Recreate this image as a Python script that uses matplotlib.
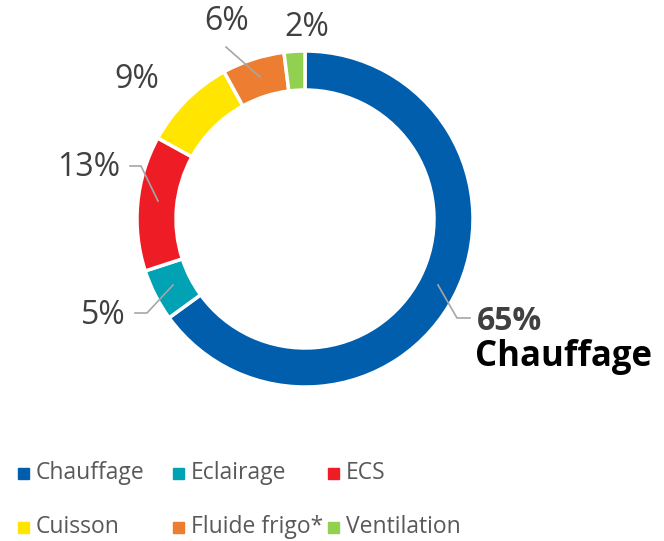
import matplotlib.pyplot as plt
import numpy as np

categories = ["Chauffage", "Eclairage", "ECS", "Cuisson", "Fluide frigo*", "Ventilation"]
values = [65, 5, 13, 9, 6, 2]
colors = ["#005EAD", "#00A2B4", "#EE1C25", "#FFE500", "#ED7D31", "#92D050"]

plt.rcParams['font.family'] = ['Open Sans', 'DejaVu Sans']

W, H = 664, 541
fig = plt.figure(figsize=(W / 100, H / 100), dpi=100)
ax = fig.add_axes([0, 0, 1, 1])

cx, cy, R = 305, H - 219, 168
wedges, _ = ax.pie(values, colors=colors, startangle=90, counterclock=False,
                   center=(cx, cy), radius=R, frame=True,
                   wedgeprops=dict(width=39, edgecolor='white', linewidth=2.5))
ax.set_xlim(0, W)
ax.set_ylim(0, H)
ax.set_aspect('equal')
ax.axis('off')

gray = "#404040"
line_c = "#A6A6A6"

def label(txt, x, y, pts=None, **kw):
    ax.text(x, H - y, txt, ha='center', va='center', **kw)
    if pts:
        xs = [p[0] for p in pts]
        ys = [H - p[1] for p in pts]
        ax.plot(xs, ys, color=line_c, lw=1.2)

label("2%", 307, 27, fontsize=23, color=gray)
label("6%", 227, 22, [(226, 47), (260, 77)], fontsize=23, color=gray)
label("9%", 137, 79, fontsize=23, color=gray)
label("13%", 89, 167, [(130, 166), (141, 166), (158, 201)], fontsize=23, color=gray)
label("5%", 103, 316, [(135, 313), (147, 313), (173, 285)], fontsize=23, color=gray)
label("65%", 510, 322, [(438, 285), (457, 318), (470, 318)], fontsize=23, color=gray, fontweight='bold')
ax.text(475, H - 357, "Chauffage", ha='left', va='center', fontsize=25, color='black', fontweight='bold')

# legend
leg_x = [18, 173, 328]
leg_y = [473, 527]
for i, (cat, col) in enumerate(zip(categories, colors)):
    r, c = divmod(i, 3)
    x = leg_x[c]
    y = leg_y[r]
    ax.add_patch(plt.Rectangle((x, H - y - 5.5), 11, 11, color=col))
    ax.text(x + 18, H - y, cat, ha='left', va='center', fontsize=16.5, color="#595959")

fig.savefig("out.png", dpi=100)
